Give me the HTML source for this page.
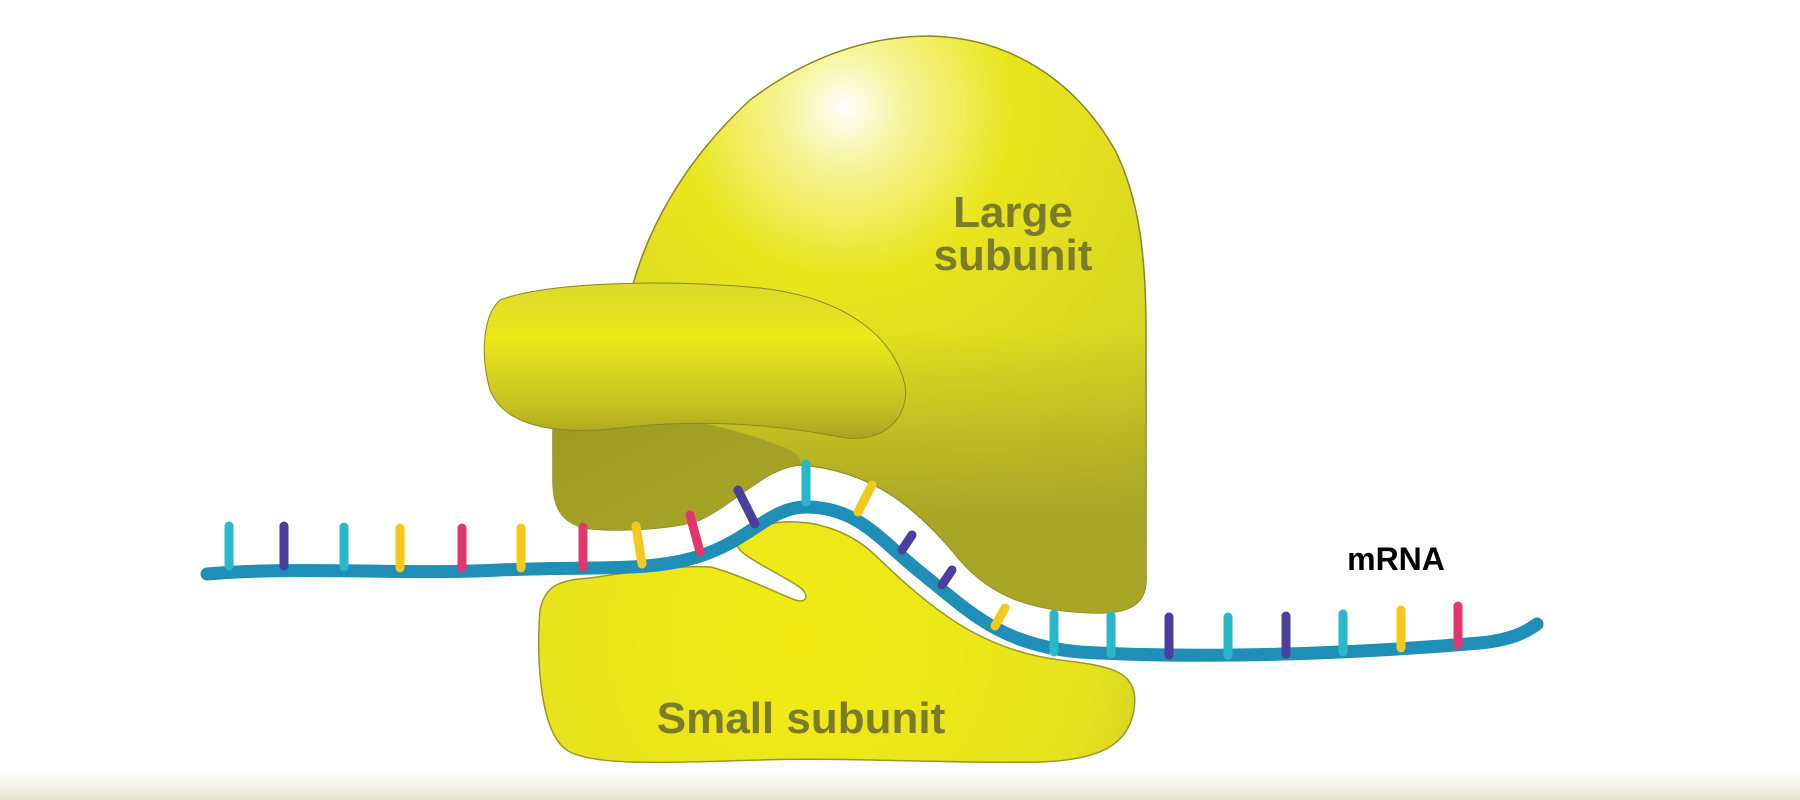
<!DOCTYPE html>
<html><head><meta charset="utf-8"><style>
html,body{margin:0;padding:0;background:#fff;}
svg{display:block;}
text{font-family:"Liberation Sans",sans-serif;font-weight:bold;}
</style></head><body>
<svg width="1800" height="800" viewBox="0 0 1800 800" xmlns="http://www.w3.org/2000/svg">
<defs>
<radialGradient id="lg" cx="845" cy="108" r="600" gradientUnits="userSpaceOnUse">
<stop offset="0" stop-color="#ffffff"/>
<stop offset="0.09" stop-color="#f7f5a0"/>
<stop offset="0.28" stop-color="#e9e51c"/>
<stop offset="0.7" stop-color="#d4d124"/>
<stop offset="1" stop-color="#b3b126"/>
</radialGradient>
<linearGradient id="shade" x1="0" y1="330" x2="0" y2="520" gradientUnits="userSpaceOnUse">
<stop offset="0" stop-color="#a6a426" stop-opacity="0"/>
<stop offset="1" stop-color="#a6a426" stop-opacity="0.95"/>
</linearGradient>
<linearGradient id="lobe" x1="0" y1="0" x2="1" y2="1">
<stop offset="0" stop-color="#9d9b22"/>
<stop offset="1" stop-color="#a8a629"/>
</linearGradient>
<linearGradient id="lip" x1="0" y1="0" x2="0" y2="1">
<stop offset="0" stop-color="#dcd92a"/>
<stop offset="0.35" stop-color="#ece81a"/>
<stop offset="0.8" stop-color="#c3c022"/>
<stop offset="1" stop-color="#a8a520"/>
</linearGradient>
<radialGradient id="sm" cx="800" cy="640" r="420" gradientUnits="userSpaceOnUse">
<stop offset="0" stop-color="#f2ec14"/>
<stop offset="0.7" stop-color="#e6e21e"/>
<stop offset="1" stop-color="#c9c62a"/>
</radialGradient>
<linearGradient id="floor" x1="0" y1="0" x2="0" y2="1">
<stop offset="0" stop-color="#ffffff"/>
<stop offset="1" stop-color="#e8e6cf"/>
</linearGradient>
</defs>
<rect x="0" y="770" width="1800" height="30" fill="url(#floor)"/>

<path d="M629,300 C645,230 685,160 750,100 C810,55 870,36 930,36 C1010,38 1075,80 1115,150 C1140,200 1146,260 1146,330 L1146,580 C1146,605 1128,613 1098,613 C1030,612 990,595 960,560 C915,505 870,470 800,465 C765,468 740,500 700,520 C670,530 610,532 585,528 C560,522 553,505 553,480 L553,430 Z" fill="url(#lg)" stroke="#8a8820" stroke-width="1.5"/>
<path d="M629,300 C645,230 685,160 750,100 C810,55 870,36 930,36 C1010,38 1075,80 1115,150 C1140,200 1146,260 1146,330 L1146,580 C1146,605 1128,613 1098,613 C1030,612 990,595 960,560 C915,505 870,470 800,465 C765,468 740,500 700,520 C670,530 610,532 585,528 C560,522 553,505 553,480 L553,430 Z" fill="url(#shade)"/>
<path d="M553,410 C620,405 720,420 790,450 C800,456 803,462 800,465 C765,468 740,500 700,520 C670,530 610,532 585,528 C560,522 553,505 553,480 Z" fill="url(#lobe)"/>
<path d="M500,300 C540,284 650,278 760,288 C850,298 895,340 905,385 C910,420 880,445 840,437 C780,425 700,418 620,428 C560,435 505,428 490,390 C480,355 483,315 500,300 Z" fill="url(#lip)" stroke="#8a8820" stroke-width="1"/>

<path d="M540,610 C545,585 560,580 590,578 C630,572 680,565 711,567 C740,575 770,590 795,600 C808,604 810,594 798,586 C765,565 730,552 738,540 C760,515 830,512 875,555 C930,608 980,650 1060,660 C1110,666 1140,670 1134,710 C1128,745 1100,760 1040,762 C950,764 850,757 760,760 C680,762 600,767 570,752 C540,737 536,660 540,610 Z" fill="url(#sm)" stroke="#9a9820" stroke-width="1.5"/>

<path d="M207,574 C300,566 400,575 500,570 C600,566 650,572 700,556 C750,540 770,507 806,507 C858,507 880,540 920,572 C970,612 1000,645 1080,652 C1200,659 1350,654 1480,643 C1510,640 1525,633 1537,624" fill="none" stroke="#1f8fb8" stroke-width="13" stroke-linecap="round"/>

<g stroke-width="9" stroke-linecap="round">
<line x1="229" y1="566" x2="229" y2="526" stroke="#2ab8c8"/>
<line x1="284" y1="566" x2="284" y2="526" stroke="#4a3f9e"/>
<line x1="344" y1="567" x2="344" y2="527" stroke="#2ab8c8"/>
<line x1="400" y1="568" x2="400" y2="528" stroke="#f5c81c"/>
<line x1="462" y1="568" x2="462" y2="528" stroke="#e0386e"/>
<line x1="521" y1="568" x2="521" y2="528" stroke="#f5c81c"/>
<line x1="583" y1="567" x2="583" y2="527" stroke="#e0386e"/>
<line x1="642" y1="564" x2="636" y2="526" stroke="#f5c81c"/>
<line x1="700" y1="552" x2="690" y2="515" stroke="#e0386e"/>
<line x1="755" y1="524" x2="738" y2="490" stroke="#4a3f9e"/>
<line x1="806" y1="502" x2="806" y2="464" stroke="#2ab8c8"/>
<line x1="858" y1="512" x2="872" y2="485" stroke="#f5c81c"/>
<line x1="902" y1="550" x2="912" y2="535" stroke="#4a3f9e"/>
<line x1="942" y1="585" x2="952" y2="570" stroke="#4a3f9e"/>
<line x1="995" y1="626" x2="1005" y2="608" stroke="#f5c81c"/>
<line x1="1054" y1="652" x2="1054" y2="614" stroke="#2ab8c8"/>
<line x1="1111" y1="654" x2="1111" y2="616" stroke="#2ab8c8"/>
<line x1="1169" y1="655" x2="1169" y2="617" stroke="#4a3f9e"/>
<line x1="1228" y1="655" x2="1228" y2="617" stroke="#2ab8c8"/>
<line x1="1286" y1="654" x2="1286" y2="616" stroke="#4a3f9e"/>
<line x1="1343" y1="652" x2="1343" y2="614" stroke="#2ab8c8"/>
<line x1="1401" y1="648" x2="1401" y2="610" stroke="#f5c81c"/>
<line x1="1458" y1="645" x2="1458" y2="606" stroke="#e0386e"/>
</g>

<text x="1013" y="227" font-size="44" fill="#7c7b2c" text-anchor="middle">Large</text>
<text x="1013" y="270" font-size="44" fill="#7c7b2c" text-anchor="middle">subunit</text>
<text x="801" y="733" font-size="44" fill="#7c7b2c" text-anchor="middle">Small subunit</text>
<text x="1396" y="570" font-size="32" fill="#000" text-anchor="middle">mRNA</text>
</svg>
</body></html>
